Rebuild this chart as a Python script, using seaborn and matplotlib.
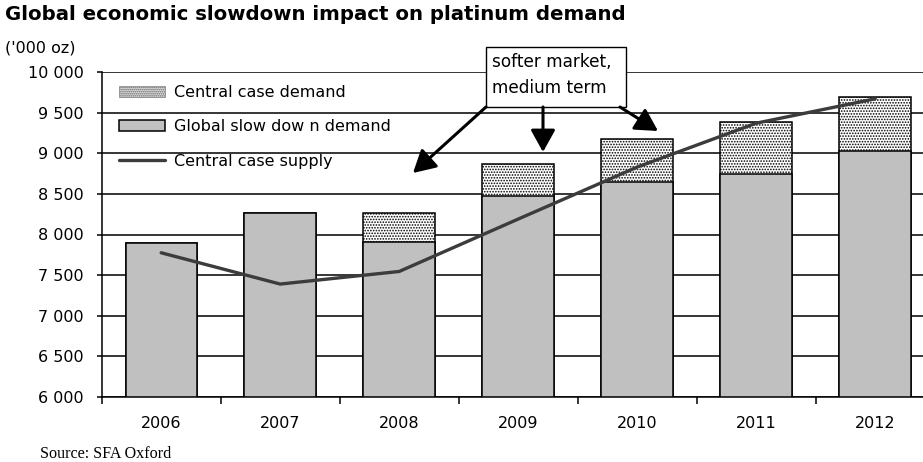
#!/usr/bin/env python3
"""
Global economic slowdown impact on platinum demand
Stacked bar chart (central case vs slowdown demand) with supply line.
"""
import numpy as np
import pandas as pd
import matplotlib
matplotlib.use('Agg')
import matplotlib.pyplot as plt
from matplotlib.patches import Patch, Rectangle, FancyArrowPatch
from matplotlib.lines import Line2D
import seaborn as sns

years = ['2006', '2007', '2008', '2009', '2010', '2011', '2012']
central_case_demand = [7890, 8270, 8270, 8870, 9170, 9390, 9690]
slowdown_demand = [7890, 8270, 7910, 8480, 8650, 8750, 9030]
central_case_supply = [7775, 7390, 7545, 8190, 8830, 9370, 9670]
y_ticks = [6000, 6500, 7000, 7500, 8000, 8500, 9000, 9500, 10000]

sns.set_theme(style='white')
plt.rcParams['font.family'] = ['DejaVu Sans']
plt.rcParams['text.color'] = 'black'
plt.rcParams['xtick.color'] = 'black'
plt.rcParams['ytick.color'] = 'black'
plt.rcParams['hatch.color'] = '#a8a8a8'
plt.rcParams['hatch.linewidth'] = 0.8

df = pd.DataFrame({
    'year': years,
    'central': central_case_demand,
    'slowdown': slowdown_demand,
    'supply': central_case_supply,
})

fig = plt.figure(figsize=(9.23, 4.62), dpi=100)
W, H = 923, 462
ax = fig.add_axes([101.7 / W, (H - 397) / H, 833 / W, 325 / H])

# total (central case) bars first, slowdown part drawn over them
sns.barplot(data=df, x='year', y='central', ax=ax, width=0.6,
            color='white', edgecolor='black', linewidth=1.1,
            hatch='......', saturation=1)
sns.barplot(data=df, x='year', y='slowdown', ax=ax, width=0.6,
            color='#c0c0c0', edgecolor='black', linewidth=1.1,
            saturation=1)
sns.lineplot(x=np.arange(len(years)), y=df['supply'], ax=ax,
             color='#3c3c3c', linewidth=2.4, zorder=5)

ax.set_xlim(-0.5, 6.5)
ax.set_ylim(6000, 10000)
ax.set_yticks(y_ticks)
ax.set_yticklabels([f'{v:,}'.replace(',', ' ') for v in y_ticks])
ax.yaxis.grid(True, color='black', linewidth=1.1)
ax.set_axisbelow(True)

# x ticks at the category boundaries, labels centred
ax.set_xticks(np.arange(len(years) + 1) - 0.5)
ax.set_xticklabels([''] * (len(years) + 1))
ax.set_xticks(np.arange(len(years)), minor=True)
ax.set_xticklabels(years, minor=True)
ax.tick_params(axis='x', which='major', direction='out', length=5,
               width=1.1, color='black', bottom=True)
ax.tick_params(axis='x', which='minor', length=0, labelsize=11.5, pad=14,
               labelcolor='black')
ax.tick_params(axis='y', direction='out', length=3.6, width=1.1,
               color='black', left=True, labelsize=11.5, pad=9.5,
               labelcolor='black')
ax.set_xlabel('')
ax.set_ylabel('')

for side in ['top', 'right']:
    ax.spines[side].set_visible(False)
for side in ['left', 'bottom']:
    ax.spines[side].set_color('black')
    ax.spines[side].set_linewidth(1.1)

handles = [
    Patch(facecolor='#dddddd', edgecolor='#666666', hatch='........', linewidth=0.4),
    Patch(facecolor='#c0c0c0', edgecolor='black', linewidth=1.1),
    Line2D([0], [0], color='#3c3c3c', linewidth=2.4),
]
labels = ['Central case demand', 'Global slow dow n demand', 'Central case supply']
leg = ax.legend(handles, labels, loc='upper left', bbox_to_anchor=(0.003, 1.005),
                frameon=False, fontsize=11.5, handlelength=2.9, handleheight=0.7,
                handletextpad=0.6, labelspacing=1.22)
for t in leg.get_texts():
    t.set_color('black')

# titles and notes
fig.text(5 / W, 1 - 15 / H, 'Global economic slowdown impact on platinum demand',
         fontsize=14.2, fontweight='bold', va='center', ha='left')
fig.text(5 / W, 1 - 48 / H, "('000 oz)", fontsize=11.5, va='center', ha='left')
fig.text(40 / W, 1 - 454 / H, 'Source: SFA Oxford', fontsize=11.6,
         family=['Liberation Serif', 'DejaVu Serif'], va='center', ha='left')

# callout box with arrows
fig.add_artist(Rectangle((486 / W, 1 - 107 / H), 140 / W, 60 / H,
                         transform=fig.transFigure, facecolor='white',
                         edgecolor='black', linewidth=1.0, zorder=10))
fig.text(492 / W, 1 - 62 / H, 'softer market,', fontsize=12.2,
         va='center', ha='left', zorder=11)
fig.text(492 / W, 1 - 88 / H, 'medium term', fontsize=12.2,
         va='center', ha='left', zorder=11)
arrow_props = dict(arrowstyle='-|>,head_length=0.9,head_width=0.5',
                   color='black', linewidth=2.2, shrinkA=0, shrinkB=0,
                   mutation_scale=15, zorder=12)
for (x0, y0), (x1, y1) in [((486, 107), (413, 173)),
                           ((543, 107), (543, 152)),
                           ((620, 107), (658, 131))]:
    fig.add_artist(FancyArrowPatch(
        (x0 / W, 1 - y0 / H), (x1 / W, 1 - y1 / H),
        transform=fig.transFigure, **arrow_props))

fig.savefig('out.png', dpi=100)
plt.close(fig)
